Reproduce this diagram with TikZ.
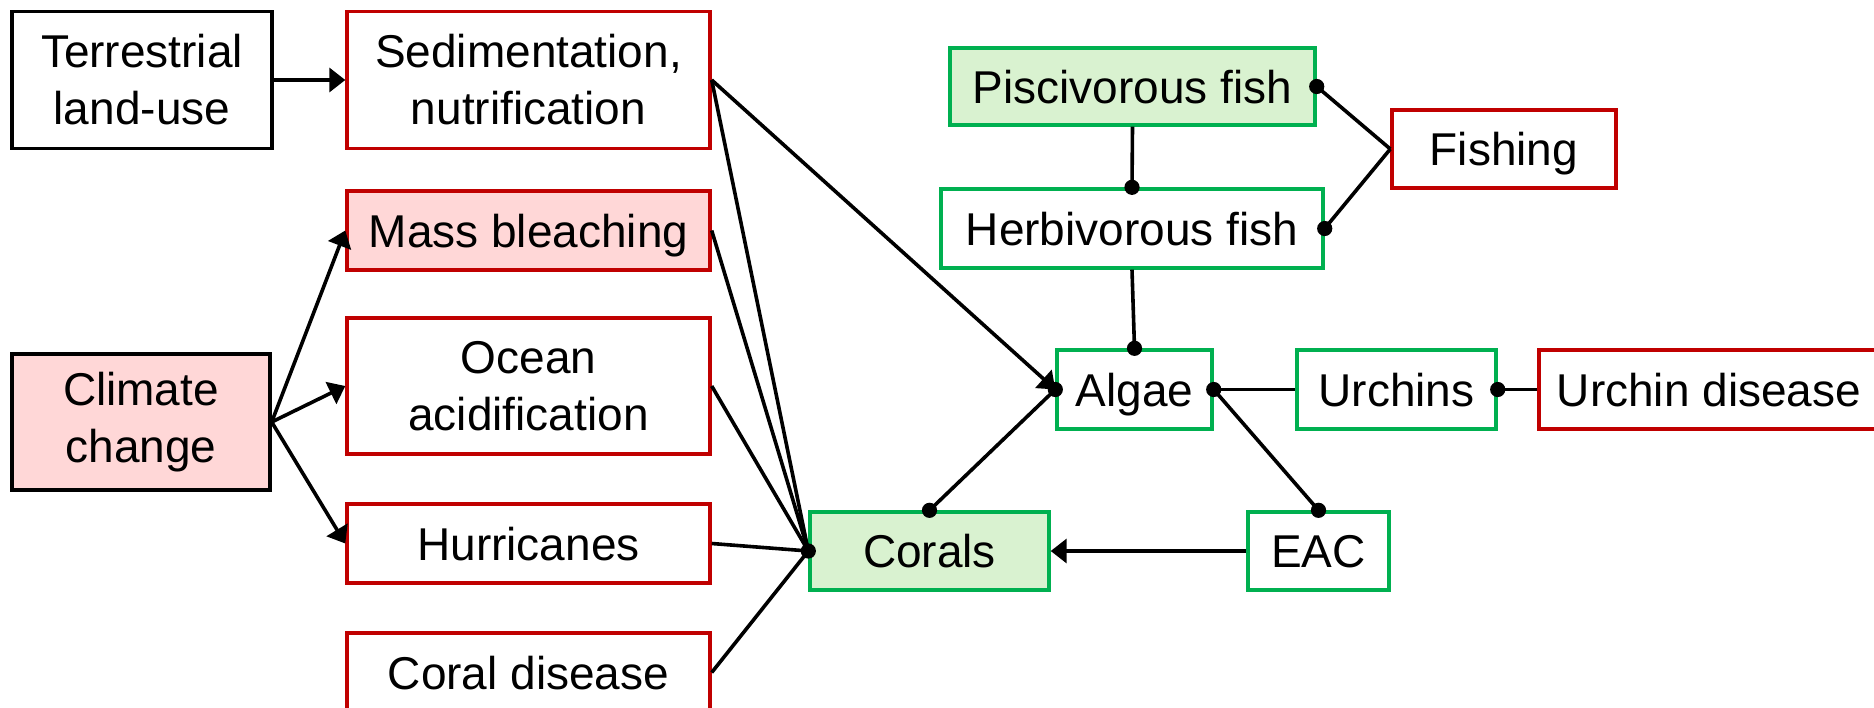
\documentclass[tikz,border=0pt]{standalone}
\usepackage{fontspec}
\setmainfont{Liberation Sans}
\usetikzlibrary{arrows.meta}
\definecolor{cred}{HTML}{C00000}
\definecolor{cgreen}{HTML}{00B050}
\definecolor{cpink}{HTML}{FFD7D7}
\definecolor{clgreen}{HTML}{D9F2D0}
\tikzset{
  box/.style={draw, line width=1.7pt, inner sep=0pt, align=center,
    font=\fontsize{23}{28.5}\selectfont, fill=white},
  one/.style={text depth=0pt},
  redbox/.style={box, draw=cred},
  greenbox/.style={box, draw=cgreen},
  blackbox/.style={box, draw=black},
  ln/.style={line width=1.8pt, black},
  arr/.style={ln, -{Triangle[length=8pt,width=12pt]}},
  dotc/.style={fill=black},
}
\begin{document}
\begin{tikzpicture}[x=0.5pt,y=-0.5pt]
\useasboundingbox (0,0) rectangle (1874,707);
% nodes
\node[blackbox, minimum width=130pt, minimum height=68.5pt] (terr) at (142,80) {Terrestrial\\land-use};
\node[redbox, minimum width=181.5pt, minimum height=68.5pt] (sed) at (528.5,80) {Sedimentation,\\nutrification};
\node[redbox, one, fill=cpink, minimum width=181.5pt, minimum height=39.5pt] (mass) at (528.5,230.5) {Mass bleaching};
\node[redbox, minimum width=181.5pt, minimum height=68pt] (ocean) at (528.5,386) {Ocean\\acidification};
\node[blackbox, fill=cpink, minimum width=129pt, minimum height=68pt] (clim) at (141,422) {Climate\\change};
\node[redbox, one, minimum width=181.5pt, minimum height=39.5pt] (hurr) at (528.5,543.5) {Hurricanes};
\node[redbox, one, minimum width=181.5pt, minimum height=39.5pt] (cdis) at (528.5,672.5) {Coral disease};
\node[greenbox, one, fill=clgreen, minimum width=119.5pt, minimum height=39pt] (corals) at (929.5,551) {Corals};
\node[greenbox, one, fill=clgreen, minimum width=182.5pt, minimum height=38.5pt] (pisc) at (1132.5,86.5) {Piscivorous fish};
\node[greenbox, one, minimum width=191pt, minimum height=39.5pt] (herb) at (1132,228.5) {Herbivorous fish};
\node[redbox, one, minimum width=112pt, minimum height=39pt] (fish) at (1504,149) {Fishing};
\node[greenbox, one, minimum width=77.5pt, minimum height=39.5pt] (algae) at (1134.5,389.5) {Algae};
\node[greenbox, one, minimum width=99.5pt, minimum height=39.5pt] (urch) at (1396.5,389.5) {Urchins};
\node[redbox, one, minimum width=170pt, minimum height=39.5pt] (udis) at (1709,389.5) {Urchin disease};
\node[greenbox, one, minimum width=70.5pt, minimum height=39pt] (eac) at (1318.5,551) {EAC};
% arrows
\draw[arr] (terr.east) -- (sed.west);
\draw[arr] (clim.east) -- (mass.west);
\draw[arr] (clim.east) -- (ocean.west);
\draw[arr] (clim.east) -- (hurr.west);
\draw[arr] (sed.east) -- (algae.west);
\draw[arr] (eac.west) -- (corals.east);
% converging lines to corals
\draw[ln] (sed.east) -- (corals.west);
\draw[ln] (mass.east) -- (corals.west);
\draw[ln] (ocean.east) -- (corals.west);
\draw[ln] (hurr.east) -- (corals.west);
\draw[ln] (cdis.east) -- (corals.west);
\fill[dotc] (corals.west) circle (3.8pt);
% corals - algae
\draw[ln] (corals.north) -- (algae.west);
\fill[dotc] (corals.north) circle (3.8pt);
\fill[dotc] (algae.west) circle (3.8pt);
% fish chain
\draw[ln] (pisc.south) -- (herb.north);
\fill[dotc] (herb.north) circle (3.8pt);
\draw[ln] (herb.south) -- (algae.north);
\fill[dotc] (algae.north) circle (3.8pt);
\draw[ln] (fish.west) -- (pisc.east);
\draw[ln] (fish.west) -- (herb.east);
\fill[dotc] (pisc.east) circle (3.8pt);
\fill[dotc] (herb.east) circle (3.8pt);
% algae - urchins, eac
\draw[ln] (algae.east) -- (urch.west);
\draw[ln] (algae.east) -- (eac.north);
\fill[dotc] (algae.east) circle (3.8pt);
\fill[dotc] (eac.north) circle (3.8pt);
\draw[ln] (udis.west) -- (urch.east);
\fill[dotc] (urch.east) circle (3.8pt);
\end{tikzpicture}
\end{document}
